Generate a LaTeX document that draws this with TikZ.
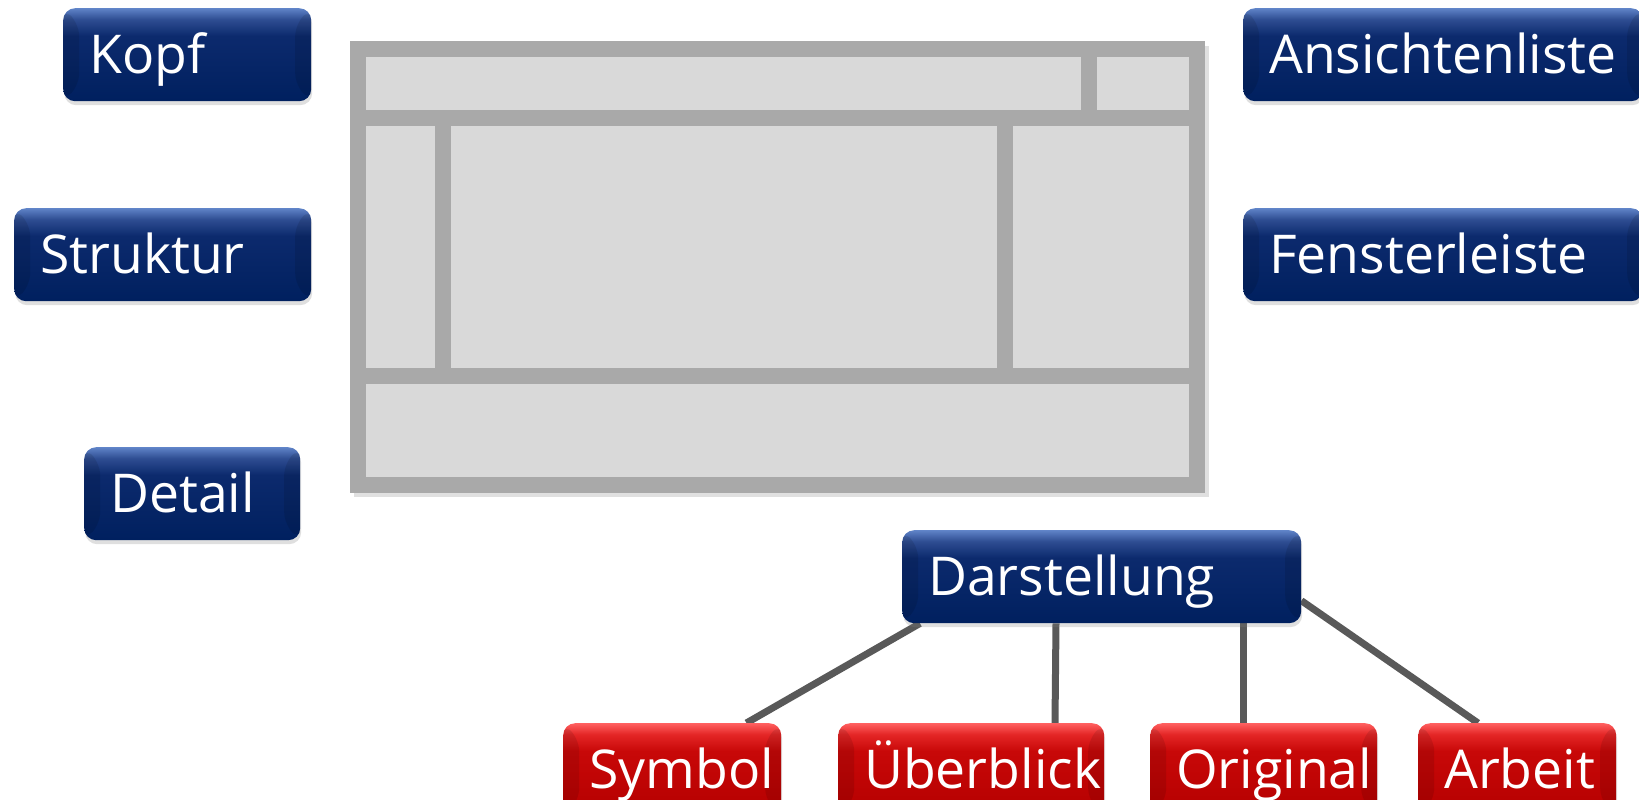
\documentclass[tikz,border=0pt]{standalone}
\usepackage{fontspec}
\setmainfont{Open Sans}
\usetikzlibrary{positioning,shadows,backgrounds}

\definecolor{navyT}{HTML}{6084C8}
\definecolor{navyH}{HTML}{2E4D92}
\definecolor{navyA}{HTML}{0C2A6D}
\definecolor{navyB}{HTML}{00205F}
\definecolor{redT}{HTML}{FF6060}
\definecolor{redH}{HTML}{E42626}
\definecolor{redA}{HTML}{C80808}
\definecolor{redB}{HTML}{B40000}
\definecolor{paneFill}{HTML}{D9D9D9}
\definecolor{paneLine}{HTML}{A9A9A9}
\definecolor{linkGray}{HTML}{595959}

\pgfdeclareverticalshading{navybtn}{100bp}{color(0bp)=(navyB); color(25bp)=(navyB);
  color(60bp)=(navyA); color(69bp)=(navyH); color(75bp)=(navyT); color(100bp)=(navyT)}
\pgfdeclareverticalshading{redbtn}{100bp}{color(0bp)=(redB); color(25bp)=(redB);
  color(60bp)=(redA); color(69bp)=(redH); color(75bp)=(redT); color(100bp)=(redT)}

\begin{document}
\begin{tikzpicture}[
  x=1pt,y=-1pt,
  btn/.style={anchor=north west,rounded corners=12pt,inner xsep=26pt,inner ysep=0pt,
    minimum height=93pt,text height=38pt,text depth=0pt,align=left,text=white,
    font=\fontsize{53.5pt}{60pt}\selectfont,
    drop shadow={shadow xshift=1pt,shadow yshift=-4pt,opacity=0.25},
    path picture={
      \fill[black,opacity=0.10] (path picture bounding box.south west)
        -- (path picture bounding box.north west)
        -- ([xshift=16pt,yshift=-16pt]path picture bounding box.north west)
        -- ([xshift=16pt,yshift=16pt]path picture bounding box.south west) -- cycle;
      \fill[black,opacity=0.10] (path picture bounding box.south east)
        -- (path picture bounding box.north east)
        -- ([xshift=-16pt,yshift=-16pt]path picture bounding box.north east)
        -- ([xshift=-16pt,yshift=16pt]path picture bounding box.south east) -- cycle;
    }},
  mainbtn/.style={btn,shading=navybtn},
  subbtn/.style={btn,shading=redbtn},
  pane/.style={draw=paneLine,line width=16pt},
  link/.style={draw=linkGray,line width=7pt},
]
\useasboundingbox (0,0) rectangle (1639,800);

% window layout
\fill[black,opacity=0.12] (354,46) rectangle (1209,497);
\fill[paneFill] (350,41) rectangle (1205,493);
\draw[pane] (358,49) rectangle (1197,485);
\draw[pane] (358,118) -- (1197,118);
\draw[pane] (358,376) -- (1197,376);
\draw[pane] (1089,49) -- (1089,118);
\draw[pane] (443,118) -- (443,376);
\draw[pane] (1005,118) -- (1005,376);

% labels
\node[mainbtn,text width=196pt] (kopf) at (63,8) {Kopf};
\node[mainbtn,text width=245pt] (struktur) at (14,208) {Struktur};
\node[mainbtn,text width=164pt] (detail) at (84,447) {Detail};
\node[mainbtn,text width=348pt] (ansicht) at (1243,8) {Ansichtenliste};
\node[mainbtn,text width=348pt] (fenster) at (1243,208) {Fensterleiste};
\node[mainbtn,text width=347pt] (dar) at (902,530) {Darstellung};

\node[subbtn,text width=166pt] (sym) at (563,723) {Symbol};
\node[subbtn,text width=214pt] (ueb) at (838,723) {Überblick};
\node[subbtn,text width=175pt] (ori) at (1150,723) {Original};
\node[subbtn,text width=146pt] (arb) at (1418,723) {Arbeit};

\begin{scope}[on background layer]
\draw[link] ([xshift=18pt]dar.south west) -- ([xshift=-35pt]sym.north east);
\draw[link] ([xshift=154pt]dar.south west) -- ([xshift=217pt]ueb.north west);
\draw[link] ([xshift=341pt]dar.south west) -- ([xshift=93pt]ori.north west);
\draw[link] ([yshift=-24pt]dar.east) -- ([xshift=60pt]arb.north west);
\end{scope}
\end{tikzpicture}
\end{document}
